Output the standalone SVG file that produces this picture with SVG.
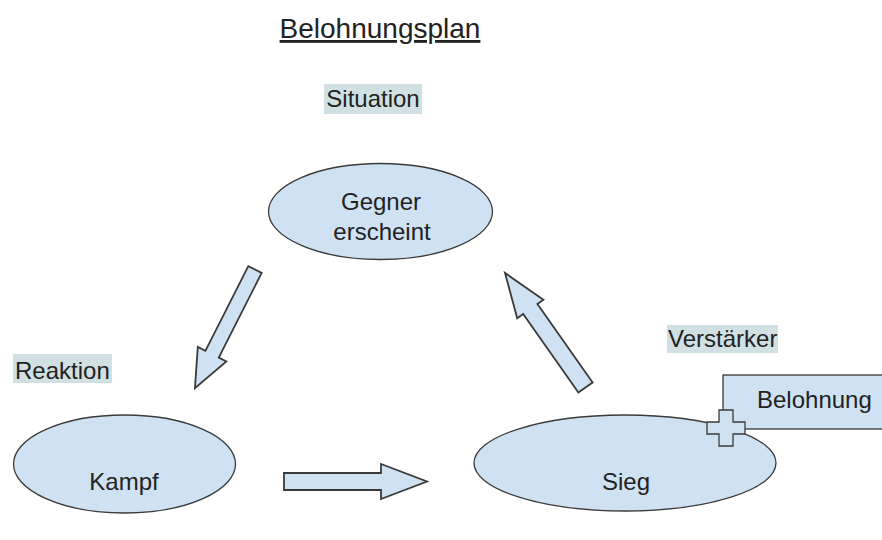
<svg xmlns="http://www.w3.org/2000/svg" width="882" height="540" viewBox="0 0 882 540">
<style>
text{font-family:"Liberation Sans",Arial,sans-serif;font-size:24px;fill:#222}
.c{text-anchor:middle}
.node{fill:#cfe2f3;stroke:#3a3a3a;stroke-width:1.3}
.arrow{fill:#cfe2f3;stroke:#3a3a3a;stroke-width:1.8;stroke-linejoin:miter}
.hl{fill:#d0e0e3}
</style>
<rect width="882" height="540" fill="#ffffff"/>
<g id="title">
<text class="c" x="380" y="38" style="font-size:28px" text-decoration="underline">Belohnungsplan</text>
</g>
<g id="label-situation">
<rect class="hl" x="324" y="84" width="98" height="30"/>
<text class="c" x="373" y="107">Situation</text>
</g>
<g id="label-reaktion">
<rect class="hl" x="13" y="354" width="99" height="29"/>
<text x="15" y="379">Reaktion</text>
</g>
<g id="label-verstaerker">
<rect class="hl" x="667" y="325" width="111" height="28"/>
<text x="668" y="347">Verstärker</text>
</g>
<g id="node-gegner">
<ellipse class="node" cx="380.5" cy="211.5" rx="112" ry="48"/>
<text class="c" x="381" y="210">Gegner</text>
<text class="c" x="382" y="240">erscheint</text>
</g>
<g id="node-kampf">
<ellipse class="node" cx="124.5" cy="464" rx="111" ry="49"/>
<text class="c" x="124" y="490">Kampf</text>
</g>
<g id="node-sieg">
<ellipse class="node" cx="625" cy="463" rx="151" ry="48"/>
<text class="c" x="626" y="490">Sieg</text>
</g>
<g id="node-belohnung">
<rect class="node" x="723" y="375" width="180" height="54"/>
<text x="757" y="408">Belohnung</text>
<polygon class="node" points="719,410 733,410 733,422 745,422 745,434 733,434 733,446 719,446 719,434 707,434 707,422 719,422"/>
</g>
<g id="connectors">
<polygon class="arrow" transform="translate(255,269.5) rotate(116.85)" points="0,-7.5 95,-7.5 95,-16 133,0 95,16 95,7.5 0,7.5"/>
<polygon class="arrow" transform="translate(284,481.5)" points="0,-8.5 97,-8.5 97,-17.5 143,0 97,17.5 97,8.5 0,8.5"/>
<polygon class="arrow" transform="translate(585.5,387.5) rotate(-125.1)" points="0,-8.7 96,-8.7 96,-16 140,0 96,16 96,8.7 0,8.7"/>
</g>
</svg>
